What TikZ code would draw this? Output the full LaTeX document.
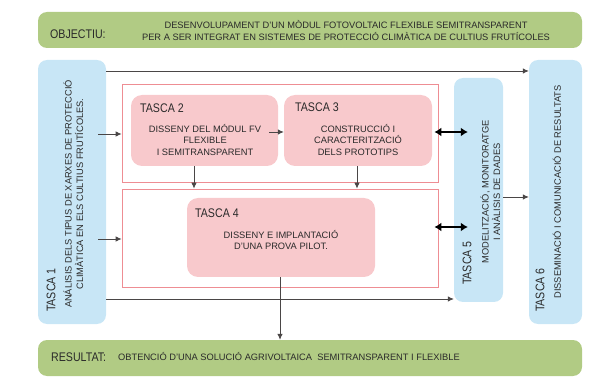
\documentclass[tikz,border=0pt]{standalone}
\usepackage{fontspec}
\setmainfont{Liberation Sans}
\newfontfamily\labfont[FakeStretch=0.85]{Liberation Sans}
\usetikzlibrary{arrows.meta}
\definecolor{grn}{HTML}{B1CB84}
\definecolor{pnk}{HTML}{F8C9CC}
\definecolor{blu}{HTML}{C8E6F6}
\definecolor{redframe}{HTML}{EE8D93}
\definecolor{txt}{HTML}{2A2A2A}
\definecolor{lin}{HTML}{4A4646}
\tikzset{
  greenbox/.style={fill=grn, draw=none, rounded corners=9pt},
  pinkbox/.style={fill=pnk, draw=none, rounded corners=11pt},
  bluebox/.style={fill=blu, draw=none, rounded corners=9pt},
  frame/.style={draw=redframe, line width=0.8pt, fill=none},
  conn/.style={draw=lin, line width=0.8pt, -{Latex[length=6pt,width=5.5pt]}},
  plainconn/.style={draw=lin, line width=0.8pt},
  dbl/.style={draw=black, line width=2.2pt, {Latex[length=7pt,width=9pt]}-{Latex[length=7pt,width=9pt]}},
  body/.style={font=\fontsize{9.3}{11.5}\selectfont, text=txt, inner sep=0pt, align=center},
  lab/.style={font=\labfont\fontsize{12.5}{14}\selectfont, text=txt, inner sep=0pt},
}
\begin{document}
\begin{tikzpicture}[x=1pt,y=-1pt]
\useasboundingbox (0,0) rectangle (614,385);
% boxes
\node[greenbox, minimum width=544pt, minimum height=36pt] (obj) at (310,30) {};
\node[greenbox, minimum width=544pt, minimum height=36pt] (res) at (310,358) {};
\node[frame, minimum width=316pt, minimum height=98pt] (f1) at (280,133) {};
\node[frame, minimum width=316pt, minimum height=98pt] (f2) at (280,238) {};
\node[bluebox, minimum width=68pt, minimum height=264pt] (t1) at (72,192) {};
\node[pinkbox, minimum width=147pt, minimum height=71pt] (t2) at (204.5,130.5) {};
\node[pinkbox, minimum width=148pt, minimum height=71pt] (t3) at (358,130.5) {};
\node[pinkbox, minimum width=188pt, minimum height=79pt] (t4) at (281,237.5) {};
\node[bluebox, minimum width=49pt, minimum height=224pt] (t5) at (478.5,190) {};
\node[bluebox, minimum width=53pt, minimum height=264pt] (t6) at (555.5,192) {};
% texts
\node[lab, anchor=west] (objl) at (50,34) {OBJECTIU:};
\node[body] (objt) at (346,30.5) {DESENVOLUPAMENT D'UN MÒDUL FOTOVOLTAIC FLEXIBLE SEMITRANSPARENT\\PER A SER INTEGRAT EN SISTEMES DE PROTECCIÓ CLIMÀTICA DE CULTIUS FRUTÍCOLES};
\node[lab, anchor=west] (resl) at (51,357) {RESULTAT:};
\node[body, anchor=west] (rest) at (118,357) {OBTENCIÓ D'UNA SOLUCIÓ AGRIVOLTAICA\ \ SEMITRANSPARENT I FLEXIBLE};
\node[lab, anchor=west] (t2l) at (140,108) {TASCA 2};
\node[body] (t2t) at (205,140) {DISSENY DEL MÓDUL FV\\FLEXIBLE\\I SEMITRANSPARENT};
\node[lab, anchor=west] (t3l) at (295,107) {TASCA 3};
\node[body] (t3t) at (358,140) {CONSTRUCCIÓ I\\CARACTERITZACIÓ\\DELS PROTOTIPS};
\node[lab, anchor=west] (t4l) at (195,213) {TASCA 4};
\node[body] (t4t) at (281,240) {DISSENY E IMPLANTACIÓ\\D'UNA PROVA PILOT.};
\node[lab, anchor=west, rotate=90] (t1l) at (51,312) {TASCA 1};
\node[body, rotate=90] (t1t) at (73.5,194) {ANÁLISIS DELS TIPUS DE XARXES DE PROTECCIÓ\\CLIMÀTICA EN ELS CULTIUS FRUTÍCOLES.};
\node[lab, anchor=west, rotate=90] (t5l) at (467,285) {TASCA 5};
\node[body, rotate=90] (t5t) at (490.5,192) {MODELITZACIÓ, MONITORATGE\\I ANÀLISIS DE DADES};
\node[lab, anchor=west, rotate=90] (t6l) at (540,312) {TASCA 6};
\node[body, rotate=90] (t6t) at (557,192) {DISSEMINACIÓ I COMUNICACIÓ DE RESULTATS};
% connectors
\draw[conn] (t1.east |- 0,71) -- (t6.west |- 0,71);
\draw[conn] (t1.east |- 0,299) -- (t5.west |- 0,299);
\draw[conn] ([xshift=-8pt]t1.east |- 0,134) -- (f1.west |- 0,134);
\draw[conn] ([xshift=-8pt]t1.east |- 0,239) -- (f2.west |- 0,239);
\draw[conn] ([xshift=-9pt]t2.east |- 0,132) -- (t3.west |- 0,132);
\draw[conn] (t2.south -| 194,0) -- (f2.north -| 194,0);
\draw[conn] (t3.south -| 357,0) -- (f2.north -| 357,0);
\draw[dbl] ([xshift=-4pt]f1.east |- 0,132) -- ([xshift=14pt]t5.west |- 0,132);
\draw[dbl] ([xshift=-4pt]f2.east |- 0,227) -- ([xshift=14pt]t5.west |- 0,227);
\draw[conn] (t5.east |- 0,197) -- (t6.west |- 0,197);
\draw[conn] (t4.south -| 280,0) -- (res.north -| 280,0);
\end{tikzpicture}
\end{document}
